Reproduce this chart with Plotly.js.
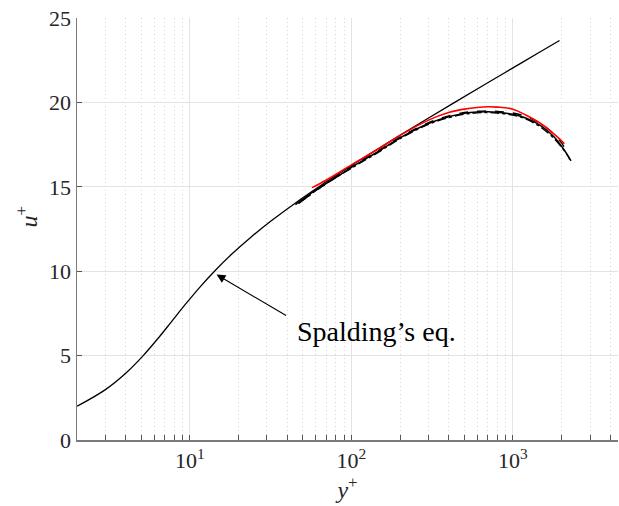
<!DOCTYPE html>
<html>
<head>
<meta charset="utf-8">
<script src="https://cdn.plot.ly/plotly-3.0.1.min.js"></script>
<style>html,body{margin:0;padding:0;background:#fff;}#chart{width:619px;height:506px;}</style>
</head>
<body>
<div id="chart"></div>
<script>
// Spalding's law of the wall
const spaldingYplus = [2.003, 3.015, 4.052, 5.140, 6.325, 7.677, 9.309, 11.392, 14.192, 18.109, 23.755, 32.05, 44.39, 62.89, 90.72, 132.68, 196.0, 291.5, 435.8, 653.4, 981.8, 1477, 1943];
const spaldingUplus = [2, 3, 4, 5, 6, 7, 8, 9, 10, 11, 12, 13, 14, 15, 16, 17, 18, 19, 20, 21, 22, 23, 23.67];

// measured profiles (black)
const b1Yplus = [45, 60, 80, 100, 150, 200, 300, 400, 500, 600, 700, 800, 1000, 1200, 1500, 1800, 2000, 2200, 2250];
const b1Uplus = [13.95, 14.8, 15.55, 16.15, 17.15, 17.9, 18.75, 19.15, 19.35, 19.43, 19.45, 19.42, 19.3, 19.08, 18.6, 17.95, 17.4, 16.8, 16.6];
const b2Yplus = [50, 70, 100, 150, 200, 300, 400, 500, 600, 700, 800, 1000, 1200, 1500, 1800, 2000, 2150];
const b2Uplus = [14.2, 15.2, 16.2, 17.2, 17.95, 18.8, 19.2, 19.4, 19.47, 19.5, 19.47, 19.37, 19.17, 18.72, 18.1, 17.6, 17.1];
const b3Yplus = [47, 65, 100, 150, 200, 300, 400, 500, 600, 700, 800, 1000, 1200, 1500, 1800, 2000, 2200, 2300];
const b3Uplus = [14.0, 15.0, 16.1, 17.1, 17.85, 18.7, 19.1, 19.3, 19.38, 19.4, 19.37, 19.25, 19.02, 18.5, 17.85, 17.35, 16.8, 16.5];
// measured profile (red)
const rYplus = [57, 70, 100, 150, 200, 300, 400, 500, 600, 700, 800, 1000, 1200, 1500, 1800, 2000, 2080];
const rUplus = [14.95, 15.4, 16.3, 17.3, 18.05, 18.95, 19.4, 19.6, 19.7, 19.74, 19.72, 19.6, 19.25, 18.72, 18.12, 17.72, 17.55];

const xMajor = [10, 100, 1000];
const xMajorText = ['10<sup>1</sup>', '10<sup>2</sup>', '10<sup>3</sup>'];
const xMinor = [2,3,4,5,6,7,8,9,20,30,40,50,60,70,80,90,200,300,400,500,600,700,800,900,2000,3000,4000];
const yTicks = [0, 5, 10, 15, 20, 25];

const serif = '"Times New Roman", "Liberation Serif", "DejaVu Serif", serif';

const traces = [
  {x: spaldingYplus, y: spaldingUplus, mode: 'lines', line: {color: '#000', width: 1.3, shape: 'spline'}, hoverinfo: 'skip'},
  {x: b3Yplus, y: b3Uplus, mode: 'lines', line: {color: '#000', width: 1.4, dash: 'dashdot', shape: 'spline'}},
  {x: b2Yplus, y: b2Uplus, mode: 'lines', line: {color: '#000', width: 1.4, dash: 'dash', shape: 'spline'}},
  {x: b1Yplus, y: b1Uplus, mode: 'lines', line: {color: '#000', width: 1.5, shape: 'spline'}},
  {x: rYplus, y: rUplus, mode: 'lines', line: {color: '#ff0000', width: 1.6, shape: 'spline'}}
];

const layout = {
  width: 619, height: 506,
  margin: {l: 77, r: 1, t: 18, b: 66},
  paper_bgcolor: '#fff', plot_bgcolor: '#fff',
  showlegend: false,
  font: {family: serif, color: '#262626', size: 22},
  xaxis: {
    type: 'log',
    range: [Math.log10(2), Math.log10(4470)],
    tickmode: 'array', tickvals: xMajor, ticktext: xMajorText,
    ticks: 'inside', ticklen: 5, tickwidth: 1, tickcolor: '#555',
    showgrid: true, gridcolor: '#e3e3e3', gridwidth: 1,
    showline: true, linecolor: '#7a7a7a', linewidth: 1.5,
    zeroline: false,
    tickfont: {family: serif, size: 22, color: '#262626'},
    minor: {tickmode: 'array', tickvals: xMinor, ticks: 'inside', ticklen: 5, tickcolor: '#555',
            showgrid: true, gridcolor: '#d4d4d4', gridwidth: 1, griddash: '1px,3px'},
    title: {text: '<i>y</i><sup>+</sup>', font: {family: serif, size: 24, color: '#262626'}, standoff: 8}
  },
  yaxis: {
    range: [0, 25],
    tickmode: 'array', tickvals: yTicks,
    ticks: 'inside', ticklen: 5, tickwidth: 1, tickcolor: '#555',
    showgrid: true, gridcolor: '#e3e3e3', gridwidth: 1,
    showline: true, linecolor: '#7a7a7a', linewidth: 1.5,
    zeroline: false,
    tickfont: {family: serif, size: 22, color: '#262626'},
    title: {text: ''}
  },
  annotations: [
    {x: 1.165, y: 9.8, xref: 'x', yref: 'y', text: ' ', showarrow: true,
     ax: 73, ay: 43, axref: 'pixel', ayref: 'pixel',
     arrowhead: 2, arrowsize: 1.6, arrowwidth: 1.1, arrowcolor: '#000', borderpad: 0},
    {x: 2.157, y: 6.43, xref: 'x', yref: 'y', text: 'Spalding’s eq.', showarrow: false,
     font: {family: serif, size: 28, color: '#000'}, xanchor: 'center', yanchor: 'middle'},
    {x: -0.0924, y: 0.527, xref: 'paper', yref: 'paper', text: '<i>u</i><sup>+</sup>', showarrow: false,
     textangle: -90, font: {family: serif, size: 24, color: '#262626'}, xanchor: 'center', yanchor: 'middle'}
  ]
};

Plotly.newPlot('chart', traces, layout, {displayModeBar: false, staticPlot: true});
</script>
</body>
</html>
